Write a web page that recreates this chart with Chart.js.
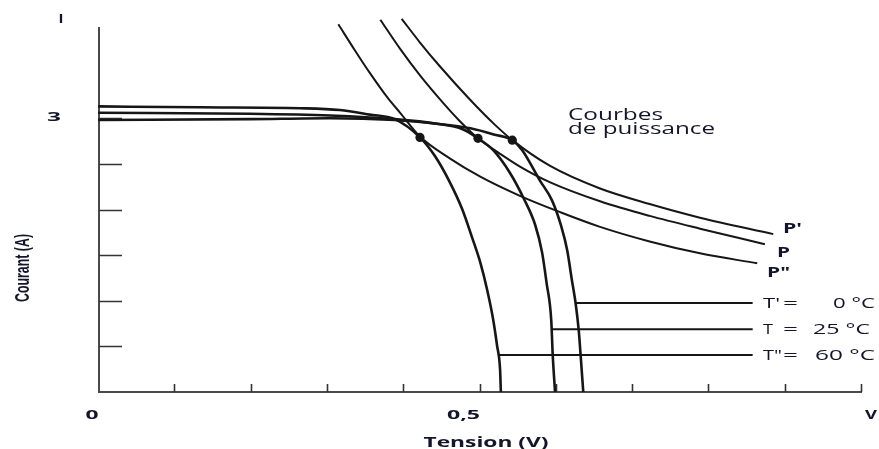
<!DOCTYPE html>
<html>
<head>
<meta charset="utf-8">
<script src="https://cdn.jsdelivr.net/npm/chart.js@4"></script>
<style>
html,body{margin:0;padding:0;background:#fff;}
#wrap{width:879px;height:449px;}
</style>
</head>
<body>
<div id="wrap"><canvas id="c" width="879" height="449"></canvas></div>
<script>
// ---- Data (V in volts, I in amperes) ----
// I-V curves
const tensionT0  = [0, 0.199, 0.304, 0.389, 0.444, 0.488, 0.520, 0.543, 0.556, 0.579, 0.595, 0.607, 0.615, 0.621, 0.626, 0.630, 0.633, 0.636];
const courantT0  = [2.98, 2.99, 3.00, 2.98, 2.94, 2.89, 2.82, 2.76, 2.65, 2.32, 2.10, 1.82, 1.55, 1.23, 0.97, 0.68, 0.35, 0];
const tensionT25 = [0, 0.199, 0.304, 0.389, 0.444, 0.478, 0.498, 0.518, 0.540, 0.558, 0.573, 0.582, 0.588, 0.594, 0.596, 0.599];
const courantT25 = [3.06, 3.05, 3.03, 2.99, 2.94, 2.88, 2.78, 2.65, 2.40, 2.12, 1.83, 1.53, 1.19, 0.79, 0.40, 0];
const tensionT60 = [0, 0.134, 0.265, 0.317, 0.356, 0.389, 0.422, 0.442, 0.461, 0.477, 0.490, 0.501, 0.510, 0.518, 0.523, 0.527, 0.528];
const courantT60 = [3.13, 3.12, 3.11, 3.09, 3.04, 2.99, 2.79, 2.58, 2.30, 2.01, 1.70, 1.42, 1.12, 0.79, 0.51, 0.24, 0];
// Power curves
const tensionP0  = [0.398, 0.422, 0.448, 0.488, 0.520, 0.543, 0.592, 0.658, 0.723, 0.789, 0.885];
const courantP0  = [4.09, 3.83, 3.57, 3.20, 2.93, 2.76, 2.48, 2.23, 2.06, 1.91, 1.73];
const tensionP25 = [0.370, 0.396, 0.422, 0.448, 0.474, 0.498, 0.527, 0.553, 0.592, 0.658, 0.723, 0.789, 0.874];
const courantP25 = [4.08, 3.76, 3.47, 3.21, 2.97, 2.78, 2.61, 2.47, 2.30, 2.09, 1.93, 1.79, 1.62];
const tensionP60 = [0.315, 0.337, 0.356, 0.380, 0.396, 0.422, 0.461, 0.501, 0.553, 0.606, 0.658, 0.723, 0.789, 0.864];
const courantP60 = [4.03, 3.74, 3.50, 3.22, 3.06, 2.80, 2.56, 2.36, 2.15, 1.97, 1.81, 1.65, 1.52, 1.41];
// Maximum power points
const mppTension = [0.422, 0.498, 0.543];
const mppCourant = [2.79, 2.78, 2.76];
// Temperature label leader lines
const leaderStartV = [0.626, 0.594, 0.524];
const leaderI      = [0.974, 0.689, 0.405];
const leaderEndV   = [0.858, 0.858, 0.858];
const tempNames    = ["T'", "T", "T\""];
const tempValues   = ["0 °C", "25 °C", "60 °C"];
const powerNames   = ["P'", "P", "P\""];
// Axes
const xTickValues = [0.1, 0.2, 0.3, 0.4, 0.5, 0.6, 0.7, 0.8, 0.9, 1.0];
const yTickValues = [0.5, 1.0, 1.5, 2.0, 2.5, 3.0];
const xTickLabels = ["0", "0,5", "V"];
const xTickLabelValues = [0, 0.5, 1.0];
const yTickLabels = ["3"];
const yTickLabelValues = [3];
const yAxisTopLabel = "I";
const xTitle = "Tension (V)";
const yTitle = "Courant (A)";
const powerTitle = ["Courbes", "de puissance"];

const pts = (xs, ys) => xs.map((v, i) => ({x: v, y: ys[i]}));
const INK = '#161616';
const TXT = '#15152a';

function lineDs(xs, ys, w) {
  return {type: 'line', data: pts(xs, ys), borderColor: INK, borderWidth: w,
          pointRadius: 0, cubicInterpolationMode: 'monotone', fill: false,
          clip: {left: 0, top: 12, right: 0, bottom: 0}};
}

const datasets = [
  lineDs(tensionT0, courantT0, 2.6),
  lineDs(tensionT25, courantT25, 2.6),
  lineDs(tensionT60, courantT60, 2.6),
  lineDs(tensionP0, courantP0, 2.0),
  lineDs(tensionP25, courantP25, 2.0),
  lineDs(tensionP60, courantP60, 2.0),
];
leaderI.forEach((c, i) => {
  datasets.push({type: 'line', data: [{x: leaderStartV[i], y: c}, {x: leaderEndV[i], y: c}],
    borderColor: INK, borderWidth: 2, pointRadius: 0, tension: 0});
});
datasets.push({type: 'scatter', data: pts(mppTension, mppCourant), showLine: false,
  pointRadius: 4.6, pointBackgroundColor: INK, pointBorderColor: INK, pointBorderWidth: 0});

function fitText(ctx, str, x, y, font, targetW, align, scaleY) {
  ctx.save();
  ctx.font = font;
  const w = ctx.measureText(str).width;
  const s = targetW / w;
  ctx.translate(x, y);
  ctx.scale(s, scaleY || 1);
  ctx.textAlign = align;
  ctx.textBaseline = 'alphabetic';
  ctx.fillStyle = TXT;
  ctx.fillText(str, 0, 0);
  ctx.restore();
}

const axesPlugin = {
  id: 'axesPlugin',
  beforeDatasetsDraw(chart) {
    const ctx = chart.ctx, xs = chart.scales.x, ys = chart.scales.y;
    const x0 = xs.getPixelForValue(0), y0 = ys.getPixelForValue(0);
    const yTop = ys.getPixelForValue(4), xEnd = xs.getPixelForValue(1);
    ctx.save();
    ctx.strokeStyle = '#4a4a4a';
    ctx.lineWidth = 2;
    ctx.beginPath();
    ctx.moveTo(x0 + 1, yTop); ctx.lineTo(x0 + 1, y0);
    ctx.lineTo(xEnd + 1, y0);
    ctx.stroke();
    ctx.strokeStyle = '#333';
    ctx.lineWidth = 1.6;
    ctx.beginPath();
    xTickValues.forEach(v => {
      const px = Math.round(xs.getPixelForValue(v)) + 0.5;
      ctx.moveTo(px, y0); ctx.lineTo(px, y0 - 8);
    });
    yTickValues.forEach(v => {
      const py = Math.round(ys.getPixelForValue(v)) + 0.5;
      ctx.moveTo(x0 + 1, py); ctx.lineTo(x0 + 24, py);
    });
    ctx.stroke();
    ctx.restore();
  },
  afterDraw(chart) {
    const ctx = chart.ctx, xs = chart.scales.x, ys = chart.scales.y;
    const y0 = ys.getPixelForValue(0);
    // x tick labels
    const xW = [13, 33, 12];
    const xOff = [-6, -16, 10];
    xTickLabels.forEach((t, i) => {
      fitText(ctx, t, xs.getPixelForValue(xTickLabelValues[i]) + xOff[i], y0 + 27, 'bold 13px "Open Sans"', xW[i], 'center');
    });
    // y tick labels
    yTickLabels.forEach((t, i) => {
      fitText(ctx, t, xs.getPixelForValue(0) - 44, ys.getPixelForValue(yTickLabelValues[i]) + 3, 'bold 13px "Open Sans"', 14, 'center');
    });
    fitText(ctx, yAxisTopLabel, xs.getPixelForValue(0) - 37, ys.getPixelForValue(4) - 4, 'bold 13px "Open Sans"', 5, 'center');
    // axis titles
    fitText(ctx, xTitle, 486, 447, 'bold 14px "Open Sans"', 125, 'center');
    ctx.save();
    ctx.translate(29, 268);
    ctx.rotate(-Math.PI / 2);
    ctx.font = 'bold 14px "Liberation Sans"';
    const tw = ctx.measureText(yTitle).width;
    ctx.scale(68 / tw, 1.5);
    ctx.textAlign = 'center';
    ctx.fillStyle = TXT;
    ctx.fillText(yTitle, 0, 0);
    ctx.restore();
    // power title
    fitText(ctx, powerTitle[0], 568, 120, '16px "Open Sans"', 95, 'left');
    fitText(ctx, powerTitle[1], 568, 134, '16px "Open Sans"', 147, 'left');
    // power labels
    const pX = [783, 777, 767], pW = [19, 13, 23], pB = [233, 257, 277];
    powerNames.forEach((t, i) => fitText(ctx, t, pX[i], pB[i], 'bold 15px "Open Sans"', pW[i], 'left'));
    // temperature labels
    const nameW = [17, 10, 19];
    const valL = [833, 813, 815], valW = [42, 57, 60];
    tempNames.forEach((t, i) => {
      const b = ys.getPixelForValue(leaderI[i]) + 5;
      fitText(ctx, t, 763, b, '15px "Open Sans"', nameW[i], 'left');
      fitText(ctx, '=', 783, b, '15px "Open Sans"', 15, 'left');
      fitText(ctx, tempValues[i], valL[i], b, '15px "Open Sans"', valW[i], 'left');
    });
  }
};

new Chart(document.getElementById('c'), {
  data: {datasets},
  options: {
    responsive: false,
    animation: false,
    devicePixelRatio: 1,
    layout: {padding: {left: 98, right: 18, top: 27, bottom: 57}},
    plugins: {legend: {display: false}, tooltip: {enabled: false}},
    scales: {
      x: {type: 'linear', min: 0, max: 1, display: false},
      y: {type: 'linear', min: 0, max: 4, display: false}
    }
  },
  plugins: [axesPlugin]
});
</script>
</body>
</html>
